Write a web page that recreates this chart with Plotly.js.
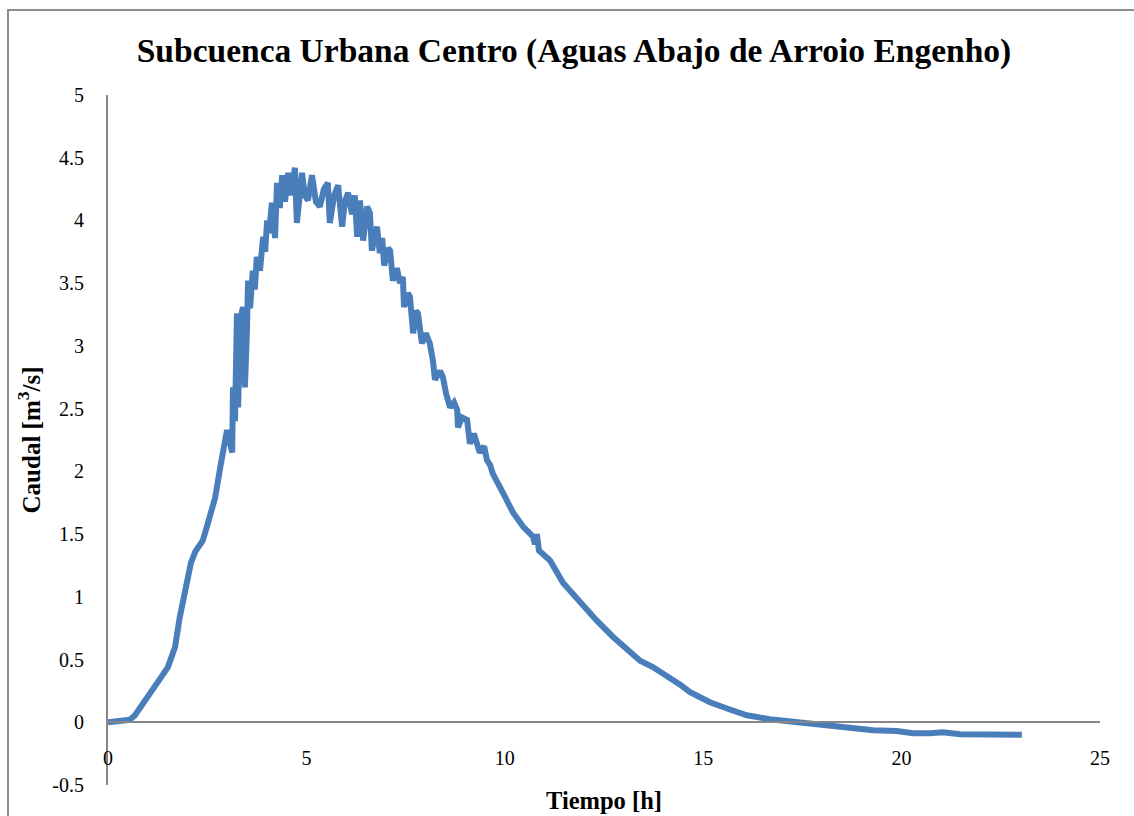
<!DOCTYPE html>
<html>
<head>
<meta charset="utf-8">
<script src="https://cdn.plot.ly/plotly-3.0.1.min.js"></script>
<style>html,body{margin:0;padding:0;background:#fff;}#chart{width:1134px;height:816px;}</style>
</head>
<body>
<div id="chart"></div>
<script>
// Time [h]
var tiempo = [
  0, 0.55, 0.68, 0.85, 1.0, 1.2, 1.34, 1.51, 1.69, 1.81, 1.97, 2.09, 2.2, 2.3, 2.39, 2.52, 2.70, 2.85, 2.95,
  3.0, 3.13, 3.15, 3.2, 3.25, 3.28, 3.33, 3.40, 3.45, 3.5, 3.53, 3.58, 3.65, 3.7, 3.75, 3.83,
  3.91, 3.96, 4.01, 4.06, 4.13, 4.21, 4.26, 4.33, 4.39, 4.46, 4.54, 4.61, 4.71, 4.76, 4.84,
  4.89, 4.96, 5.04, 5.14, 5.24, 5.34, 5.44, 5.54, 5.59, 5.70, 5.80, 5.90, 5.97, 6.05, 6.15,
  6.22, 6.28, 6.35, 6.43, 6.53, 6.60, 6.65, 6.78, 6.85, 6.91, 6.96, 7.06, 7.11, 7.18, 7.28,
  7.36, 7.43, 7.46, 7.56, 7.61, 7.69, 7.76, 7.81, 7.91, 8.01, 8.11, 8.19, 8.24, 8.37, 8.44,
  8.52, 8.62, 8.72, 8.80, 8.82, 8.92, 9.05, 9.12, 9.22, 9.30, 9.37, 9.48, 9.55, 9.63, 9.70,
  9.95, 10.21, 10.46, 10.71, 10.76, 10.81, 10.86, 10.94, 11.14, 11.47, 11.90, 12.32, 12.73,
  13.16, 13.41, 13.73, 14.09, 14.42, 14.67, 15.17, 15.60, 16.10, 16.68, 17.11, 17.52, 18.12,
  18.70, 19.28, 19.88, 20.29, 20.72, 21.04, 21.47, 22.30, 23.03
];
// Flow [m3/s]
var caudal = [
  0, 0.02, 0.056, 0.13, 0.2, 0.29, 0.36, 0.44, 0.6, 0.84, 1.08, 1.27, 1.36, 1.41, 1.45, 1.59, 1.79, 2.07, 2.25,
  2.33, 2.15, 2.67, 2.4, 3.26, 2.51, 3.2, 3.31, 2.67, 3.1, 3.52, 3.3, 3.6, 3.45, 3.71, 3.6,
  3.87, 3.75, 4.0, 3.9, 4.14, 3.86, 4.3, 4.1, 4.36, 4.15, 4.38, 4.2, 4.42, 3.98, 4.3,
  4.38, 4.2, 4.16, 4.36, 4.15, 4.11, 4.25, 4.3, 3.98, 4.2, 4.28, 3.95, 4.15, 4.22, 4.05,
  4.2, 3.87, 4.16, 3.84, 4.11, 4.06, 3.76, 3.95, 3.74, 3.86, 3.64, 3.78, 3.76, 3.52, 3.62,
  3.5, 3.55, 3.31, 3.42, 3.39, 3.1, 3.28, 3.26, 3.02, 3.1, 3.02, 2.88, 2.73, 2.8, 2.75,
  2.62, 2.51, 2.55, 2.49, 2.35, 2.43, 2.41, 2.22, 2.3, 2.22, 2.15, 2.2, 2.09, 2.05, 1.98,
  1.83, 1.67, 1.56, 1.48, 1.42, 1.5, 1.37, 1.35, 1.29, 1.11, 0.95, 0.81, 0.68,
  0.55, 0.49, 0.44, 0.37, 0.30, 0.24, 0.16, 0.11, 0.056, 0.024, 0.01, -0.01, -0.03,
  -0.05, -0.064, -0.07, -0.088, -0.088, -0.08, -0.096, -0.1, -0.1
];
var yTicks = [-0.5, 0, 0.5, 1, 1.5, 2, 2.5, 3, 3.5, 4, 4.5, 5];
var yTickText = ["-0.5", "0", "0.5", "1", "1.5", "2", "2.5", "3", "3.5", "4", "4.5", "5"];
var xTicks = [0, 5, 10, 15, 20, 25];

var serif = "Liberation Serif, DejaVu Serif, serif";
var axisGray = "#868686";

var trace = {
  x: tiempo, y: caudal, type: "scatter", mode: "lines",
  line: {color: "#4A7EBB", width: 6, shape: "linear"},
  hoverinfo: "x+y", showlegend: false
};

var layout = {
  width: 1134, height: 816,
  margin: {l: 108, r: 34, t: 95, b: 31},
  paper_bgcolor: "#ffffff", plot_bgcolor: "#ffffff",
  showlegend: false,
  title: {
    text: "<b>Subcuenca Urbana Centro (Aguas Abajo de Arroio Engenho)</b>",
    font: {family: serif, size: 33.5, color: "#000"},
    x: 574/1134, xref: "container", xanchor: "center",
    y: 1 - 50/816, yref: "container", yanchor: "middle"
  },
  xaxis: {
    range: [0, 25], tickvals: xTicks, ticktext: xTicks.map(String),
    anchor: "free", position: 0.5/5.5,
    showline: true, linecolor: axisGray, linewidth: 2,
    showgrid: false, zeroline: false,
    ticks: "outside", ticklen: 18, tickcolor: "rgba(0,0,0,0)",
    tickfont: {family: serif, size: 20, color: "#000"},
    fixedrange: true
  },
  yaxis: {
    range: [-0.5, 5], tickvals: yTicks, ticktext: yTickText,
    showline: true, linecolor: axisGray, linewidth: 2,
    showgrid: false, zeroline: false,
    ticks: "outside", ticklen: 18, tickcolor: "rgba(0,0,0,0)",
    tickfont: {family: serif, size: 20, color: "#000"},
    title: {text: "<b>Caudal [m<sup>3</sup>/s]</b>", font: {family: serif, size: 25, color: "#000"}, standoff: 5},
    fixedrange: true
  },
  annotations: [{
    text: "<b>Tiempo [h]</b>", xref: "paper", yref: "paper",
    x: 0.5, y: -15/690, xanchor: "center", yanchor: "middle",
    showarrow: false, font: {family: serif, size: 24.5, color: "#000"}
  }],
  shapes: [{
    type: "rect", xref: "paper", yref: "paper",
    x0: (8 - 108)/992, x1: (1150 - 108)/992,
    y0: (785 - 830)/690, y1: (785 - 10)/690,
    line: {color: "#8c8c8c", width: 2}, fillcolor: "rgba(0,0,0,0)", layer: "below"
  }]
};

Plotly.newPlot("chart", [trace], layout, {displayModeBar: false, staticPlot: true});
</script>
</body>
</html>
